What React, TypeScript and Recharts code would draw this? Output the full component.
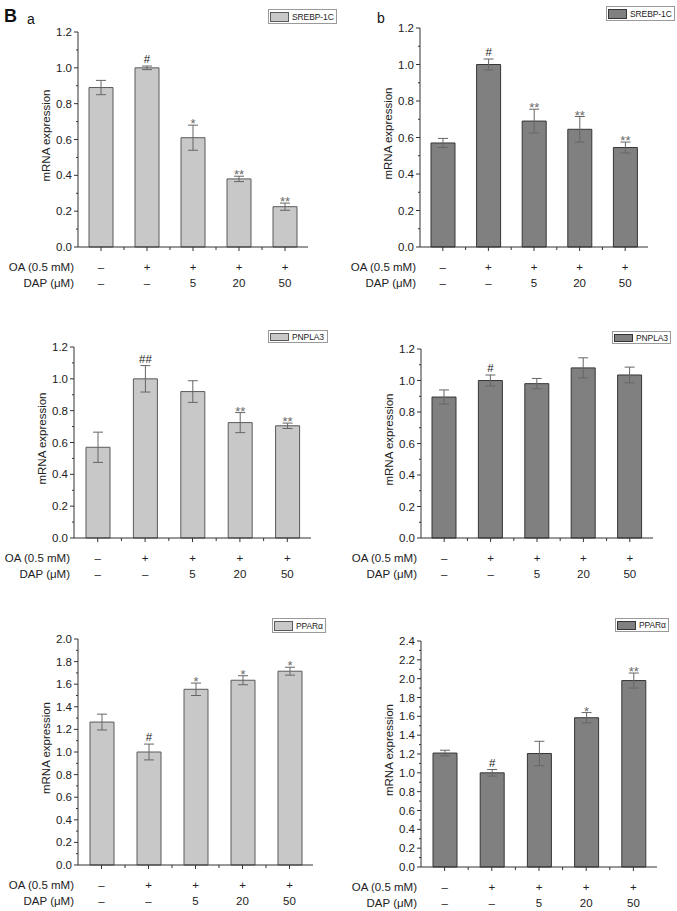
import React from 'react';
import { BarChart, Bar, XAxis, YAxis, ErrorBar, LabelList, Legend } from 'recharts';

const FONT = '"Liberation Sans", Arial, Helvetica, sans-serif';

const groups = ['Control', 'OA', 'OA+DAP 5', 'OA+DAP 20', 'OA+DAP 50'];
const oaLabels = ['–', '+', '+', '+', '+'];
const dapLabels = ['–', '–', '5', '20', '50'];

const srebpA = [0.89, 1.0, 0.61, 0.38, 0.225];
const srebpAErr = [0.04, 0.01, 0.07, 0.015, 0.02];
const srebpASig = ['', '#', '*', '**', '**'];

const srebpB = [0.57, 1.0, 0.69, 0.645, 0.545];
const srebpBErr = [0.025, 0.03, 0.065, 0.07, 0.03];
const srebpBSig = ['', '#', '**', '**', '**'];

const pnplaA = [0.57, 1.0, 0.92, 0.725, 0.705];
const pnplaAErr = [0.095, 0.083, 0.068, 0.063, 0.017];
const pnplaASig = ['', '##', '', '**', '**'];

const pnplaB = [0.895, 1.0, 0.98, 1.08, 1.035];
const pnplaBErr = [0.045, 0.035, 0.033, 0.064, 0.05];
const pnplaBSig = ['', '#', '', '', ''];

const pparA = [1.265, 1.0, 1.555, 1.635, 1.715];
const pparAErr = [0.07, 0.07, 0.055, 0.04, 0.035];
const pparASig = ['', '#', '*', '*', '*'];

const pparB = [1.21, 1.0, 1.205, 1.585, 1.98];
const pparBErr = [0.03, 0.035, 0.13, 0.055, 0.08];
const pparBSig = ['', '#', '', '*', '**'];

const ticks12 = [0, 0.1, 0.2, 0.3, 0.4, 0.5, 0.6, 0.7, 0.8, 0.9, 1.0, 1.1, 1.2];
const ticks20 = [0, 0.1, 0.2, 0.3, 0.4, 0.5, 0.6, 0.7, 0.8, 0.9, 1.0, 1.1, 1.2, 1.3, 1.4, 1.5, 1.6, 1.7, 1.8, 1.9, 2.0];
const ticks24 = [0, 0.1, 0.2, 0.3, 0.4, 0.5, 0.6, 0.7, 0.8, 0.9, 1.0, 1.1, 1.2, 1.3, 1.4, 1.5, 1.6, 1.7, 1.8, 1.9, 2.0, 2.1, 2.2, 2.3, 2.4];

const LIGHT = { fill: '#c8c8c8', stroke: '#5a5a5a' };
const DARK = { fill: '#808080', stroke: '#363636' };

const YTick = (props: any) => {
  const { x, y, payload } = props;
  const v = payload.value as number;
  const major = Math.round(v * 10) % 2 === 0;
  return (
    <g>
      <line x1={x} x2={x - (major ? 4 : 2)} y1={y} y2={y} stroke="#333" strokeWidth={1} />
      {major && (
        <text x={x - 6} y={y} dy="0.35em" textAnchor="end" fontSize={11.5} fontFamily={FONT} fill="#222">
          {v.toFixed(1)}
        </text>
      )}
    </g>
  );
};

const makeXTick = (band: number) => (props: any) => {
  const { x, y, index } = props;
  const txt = { fontSize: 11.5, fontFamily: FONT, fill: '#222' } as any;
  return (
    <g>
      <line x1={x} x2={x} y1={y} y2={y + 4} stroke="#333" strokeWidth={1} />
      {index < 4 && <line x1={x + band / 2} x2={x + band / 2} y1={y} y2={y + 3} stroke="#333" strokeWidth={1} />}
      <text x={x} y={y + 20} dy="0.35em" textAnchor="middle" {...txt}>{oaLabels[index]}</text>
      <text x={x} y={y + 36} dy="0.35em" textAnchor="middle" {...txt}>{dapLabels[index]}</text>
      {index === 0 && (
        <>
          <text x={x - band / 2 - 4} y={y + 20} dy="0.35em" textAnchor="end" {...txt}>OA (0.5 mM)</text>
          <text x={x - band / 2 - 4} y={y + 36} dy="0.35em" textAnchor="end" {...txt}>DAP (μM)</text>
        </>
      )}
    </g>
  );
};

const YLabel = (props: any) => {
  const vb = props.viewBox || props;
  const cx = vb.x + vb.width - 32;
  const cy = vb.y + vb.height / 2 - 4;
  return (
    <text
      x={cx}
      y={cy}
      transform={`rotate(-90, ${cx}, ${cy})`}
      textAnchor="middle"
      dy="0.35em"
      fontSize={11.5}
      fontFamily={FONT}
      fill="#222"
    >
      mRNA expression
    </text>
  );
};

type PanelProps = {
  name: string;
  values: number[];
  errs: number[];
  sigs: string[];
  ticks: number[];
  max: number;
  plot: { l: number; r: number; t: number; b: number };
  legend: { x: number; y: number; w: number; h: number };
  colors: { fill: string; stroke: string };
};

const Panel = ({ name, values, errs, sigs, ticks, max, plot, legend, colors }: PanelProps) => {
  const rows = groups.map((g, i) => ({ group: g, value: values[i], err: errs[i], sig: sigs[i] }));
  const mTop = 30;
  const mLeft = 30;
  const axisW = 50;
  const chartLeft = plot.l - axisW - mLeft;
  const chartTop = plot.t - mTop;
  const chartW = plot.r - plot.l + axisW + mLeft + 10;
  const chartH = plot.b - plot.t + mTop + 50;
  const band = (plot.r - plot.l) / groups.length;

  const SigLabel = (p: any) => {
    const vb = p.viewBox && p.viewBox.width !== undefined ? p.viewBox : p;
    const { x, y, width, height } = vb;
    const value = p.value;
    const index = p.index;
    if (!value) return null;
    const row = rows[index];
    const errTop = y - row.err * (Math.abs(height) / row.value);
    const isHash = String(value).includes('#');
    return (
      <text
        x={x + width / 2}
        y={isHash ? errTop - 3 : errTop + 3}
        textAnchor="middle"
        fontSize={isHash ? 11.5 : 13}
        fontFamily={FONT}
        fill={isHash ? '#222' : '#6a6a6a'}
      >
        {value}
      </text>
    );
  };

  const LegendBox = () => (
    <div
      style={{
        display: 'flex',
        alignItems: 'center',
        border: '1px solid #9a9a9a',
        background: '#fff',
        height: legend.h,
        minWidth: legend.w,
        boxSizing: 'border-box',
        fontFamily: FONT,
        fontSize: 8.5,
        letterSpacing: -0.1,
        color: '#222',
        paddingLeft: 1,
        paddingRight: 2,
        whiteSpace: 'nowrap',
      }}
    >
      <div
        style={{
          width: 19,
          height: legend.h - 5,
          background: colors.fill,
          border: `1px solid ${colors.stroke}`,
          boxSizing: 'border-box',
          marginRight: 3,
          flexShrink: 0,
        }}
      />
      <span>{name}</span>
    </div>
  );

  return (
    <div style={{ position: 'absolute', left: chartLeft, top: chartTop }}>
      <BarChart
        width={chartW}
        height={chartH}
        data={rows}
        margin={{ top: mTop, right: 10, bottom: 5, left: mLeft }}
        barCategoryGap={0}
      >
        <XAxis
          dataKey="group"
          type="category"
          height={45}
          interval={0}
          tickLine={false}
          tickSize={0}
          tickMargin={0}
          axisLine={{ stroke: '#333', strokeWidth: 1 }}
          tick={makeXTick(band)}
        />
        <YAxis
          type="number"
          domain={[0, max]}
          ticks={ticks}
          interval={0}
          width={axisW}
          tickLine={false}
          tickSize={0}
          tickMargin={0}
          axisLine={{ stroke: '#333', strokeWidth: 1 }}
          tick={YTick}
          label={(p: any) => <YLabel {...p} />}
        />
        <Legend
          layout="horizontal"
          verticalAlign="middle"
          align="center"
          content={() => <LegendBox />}
          wrapperStyle={{ left: legend.x - chartLeft, top: legend.y - chartTop, width: 'auto', height: legend.h }}
        />
        <Bar
          dataKey="value"
          name={name}
          barSize={24}
          fill={colors.fill}
          stroke={colors.stroke}
          strokeWidth={1}
          isAnimationActive={false}
        >
          <ErrorBar dataKey="err" width={5} stroke="#666" strokeWidth={1} direction="y" isAnimationActive={false} />
          <LabelList dataKey="sig" content={SigLabel} />
        </Bar>
      </BarChart>
    </div>
  );
};

export default function App() {
  return (
    <div
      style={{
        position: 'absolute',
        left: 0,
        top: 0,
        width: 677,
        height: 911,
        background: '#fff',
        overflow: 'hidden',
      }}
    >
      <div style={{ position: 'absolute', left: 4, top: 4, fontFamily: FONT, fontWeight: 'bold', fontSize: 18, lineHeight: '24px', color: '#111' }}>B</div>
      <div style={{ position: 'absolute', left: 27, top: 9, fontFamily: FONT, fontSize: 14, lineHeight: '20px', color: '#111' }}>a</div>
      <div style={{ position: 'absolute', left: 377, top: 8, fontFamily: FONT, fontSize: 14, lineHeight: '20px', color: '#111' }}>b</div>

      <Panel name="SREBP-1C" values={srebpA} errs={srebpAErr} sigs={srebpASig} ticks={ticks12} max={1.2}
        plot={{ l: 78, r: 308, t: 32, b: 247 }} legend={{ x: 268, y: 9, w: 69, h: 15 }} colors={LIGHT} />
      <Panel name="SREBP-1C" values={srebpB} errs={srebpBErr} sigs={srebpBSig} ticks={ticks12} max={1.2}
        plot={{ l: 420, r: 648, t: 28, b: 247 }} legend={{ x: 606, y: 6, w: 66, h: 15 }} colors={DARK} />
      <Panel name="PNPLA3" values={pnplaA} errs={pnplaAErr} sigs={pnplaASig} ticks={ticks12} max={1.2}
        plot={{ l: 74, r: 311, t: 347, b: 538 }} legend={{ x: 268, y: 330, w: 60, h: 13 }} colors={LIGHT} />
      <Panel name="PNPLA3" values={pnplaB} errs={pnplaBErr} sigs={pnplaBSig} ticks={ticks12} max={1.2}
        plot={{ l: 421, r: 653, t: 349, b: 538 }} legend={{ x: 612, y: 331, w: 58, h: 13 }} colors={DARK} />
      <Panel name="PPARα" values={pparA} errs={pparAErr} sigs={pparASig} ticks={ticks20} max={2.0}
        plot={{ l: 78, r: 313, t: 639, b: 865 }} legend={{ x: 272, y: 618, w: 53, h: 15 }} colors={LIGHT} />
      <Panel name="PPARα" values={pparB} errs={pparBErr} sigs={pparBSig} ticks={ticks24} max={2.4}
        plot={{ l: 421, r: 657, t: 641, b: 867 }} legend={{ x: 615, y: 618, w: 52, h: 14 }} colors={DARK} />
    </div>
  );
}
